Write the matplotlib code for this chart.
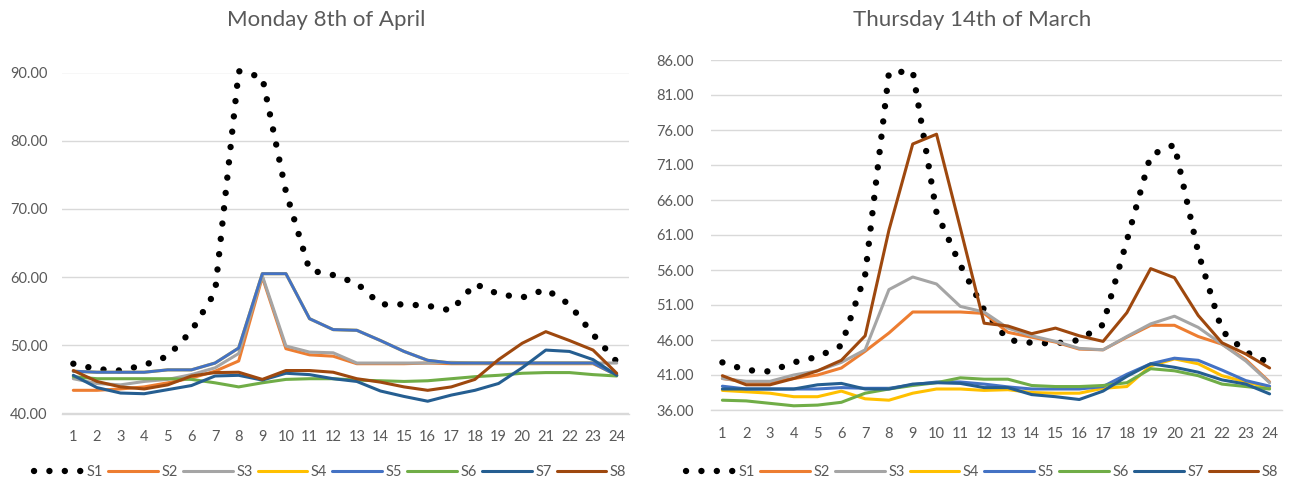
import matplotlib
matplotlib.use("Agg")
import matplotlib.pyplot as plt
from matplotlib.ticker import FixedLocator, FormatStrFormatter

plt.rcParams["font.family"] = ["Lato", "DejaVu Sans"]

hours = list(range(1, 25))
hour_labels = [str(h) for h in hours]
series_names = ["S1", "S2", "S3", "S4", "S5", "S6", "S7", "S8"]
series_colors = ["#000000", "#ED7D31", "#A5A5A5", "#FFC000",
                 "#4472C4", "#70AD47", "#255E91", "#9E480E"]

# Monday 8th of April
april_s1 = [47.3, 46.5, 46.3, 47.1, 48.4, 52.1, 57.8, 90.2, 89.3, 72.5, 61.0, 60.3,
            59.1, 56.0, 56.0, 55.8, 55.1, 59.0, 57.5, 57.0, 58.2, 56.0, 51.6, 47.6]
april_s2 = [43.4, 43.4, 43.6, 43.9, 44.5, 45.2, 46.2, 47.7, 60.0, 49.5, 48.6, 48.4,
            47.3, 47.3, 47.3, 47.4, 47.3, 47.3, 47.3, 47.3, 47.3, 47.3, 47.3, 45.7]
april_s3 = [45.1, 44.4, 44.2, 44.7, 45.0, 45.7, 46.7, 48.8, 60.2, 49.9, 49.0, 48.9,
            47.4, 47.4, 47.4, 47.4, 47.5, 47.4, 47.4, 47.4, 47.4, 47.4, 47.4, 47.4]
april_s4 = [46.2, 46.05, 46.05, 46.05, 46.4, 46.4, 47.4, 49.6, 60.5, 60.5, 53.9, 52.3,
            52.2, 50.7, 49.1, 47.8, 47.4, 47.4, 47.4, 47.4, 47.4, 47.4, 47.4, 45.6]
april_s5 = [46.2, 46.05, 46.05, 46.05, 46.4, 46.4, 47.4, 49.6, 60.5, 60.5, 53.9, 52.3,
            52.2, 50.7, 49.1, 47.8, 47.4, 47.4, 47.4, 47.4, 47.4, 47.4, 47.4, 45.6]
april_s6 = [45.4, 45.1, 45.1, 45.1, 45.1, 45.0, 44.5, 43.9, 44.5, 45.0, 45.1, 45.1,
            44.9, 44.8, 44.7, 44.8, 45.1, 45.4, 45.6, 45.9, 46.0, 46.0, 45.7, 45.5]
april_s7 = [45.6, 43.8, 43.0, 42.9, 43.5, 44.1, 45.5, 45.6, 44.9, 45.9, 45.7, 45.1,
            44.7, 43.3, 42.5, 41.8, 42.7, 43.4, 44.4, 46.7, 49.3, 49.1, 47.9, 45.6]
april_s8 = [46.3, 44.7, 43.9, 43.6, 44.2, 45.5, 46.0, 46.05, 45.0, 46.3, 46.3, 46.05,
            45.1, 44.6, 43.9, 43.4, 43.9, 45.0, 47.9, 50.3, 52.0, 50.7, 49.3, 45.9]

# Thursday 14th of March
march_s1 = [42.8, 41.7, 41.5, 42.8, 43.6, 45.2, 55.3, 84.2, 84.4, 64.2, 56.7, 50.3,
            46.0, 45.6, 45.5, 46.0, 48.2, 60.2, 72.4, 73.9, 58.5, 47.3, 44.3, 42.7]
march_s2 = [40.5, 40.0, 40.0, 40.5, 41.0, 42.0, 44.4, 47.0, 50.0, 50.0, 50.0, 49.8,
            47.1, 46.4, 45.7, 44.7, 44.6, 46.4, 48.1, 48.1, 46.5, 45.4, 43.2, 40.0]
march_s3 = [40.5, 40.1, 40.1, 41.0, 41.6, 42.8, 44.6, 53.2, 55.0, 54.0, 50.8, 50.0,
            47.7, 46.6, 45.8, 44.8, 44.6, 46.5, 48.3, 49.4, 47.8, 45.4, 43.0, 39.9]
march_s4 = [38.8, 38.6, 38.4, 37.9, 37.9, 38.7, 37.6, 37.4, 38.4, 39.0, 39.0, 38.8,
            38.9, 38.5, 38.4, 38.4, 39.1, 39.35, 42.3, 43.3, 42.6, 40.9, 40.0, 39.2]
march_s5 = [39.4, 39.0, 39.0, 39.0, 39.0, 39.2, 39.1, 39.1, 39.6, 40.0, 40.0, 39.7,
            39.3, 39.0, 39.0, 39.0, 39.35, 41.1, 42.6, 43.4, 43.1, 41.7, 40.2, 39.4]
march_s6 = [37.4, 37.3, 36.95, 36.6, 36.7, 37.1, 38.4, 39.0, 39.5, 39.9, 40.6, 40.4,
            40.4, 39.5, 39.35, 39.35, 39.5, 39.9, 41.9, 41.6, 40.9, 39.7, 39.35, 39.0]
march_s7 = [39.0, 39.0, 39.0, 39.0, 39.6, 39.8, 39.0, 39.0, 39.7, 39.9, 39.8, 39.2,
            39.2, 38.2, 37.9, 37.5, 38.7, 40.8, 42.6, 42.1, 41.4, 40.3, 39.7, 38.3]
march_s8 = [40.9, 39.6, 39.6, 40.5, 41.6, 43.1, 46.6, 61.7, 74.0, 75.4, 62.0, 48.4,
            48.0, 46.9, 47.7, 46.6, 45.8, 49.9, 56.2, 54.9, 49.5, 45.6, 44.0, 42.0]

april_series = [april_s1, april_s2, april_s3, april_s4,
                april_s5, april_s6, april_s7, april_s8]
march_series = [march_s1, march_s2, march_s3, march_s4,
                march_s5, march_s6, march_s7, march_s8]

april_ticks = [40, 50, 60, 70, 80, 90]
march_ticks = [36, 41, 46, 51, 56, 61, 66, 71, 76, 81, 86]

TEXT = "#595959"
GRID = "#D9D9D9"

W, H = 1289, 487
fig = plt.figure(figsize=(W / 100, H / 100), dpi=100)


def px_axes(left, top, right, bottom):
    return fig.add_axes([left / W, 1 - bottom / H, (right - left) / W, (bottom - top) / H])


def draw_panel(ax, data, ticks, title, title_x, legend_x, ypad):
    for name, color, values in zip(series_names, series_colors, data):
        if name == "S1":
            ax.plot(hours, values, color=color, lw=4.6, linestyle=(0, (0.01, 2.4)),
                    dash_capstyle="round", clip_on=False, label=name, zorder=2)
        else:
            ax.plot(hours, values, color=color, lw=2.2, solid_joinstyle="round",
                    solid_capstyle="round", clip_on=False, label=name, zorder=3)
    ax.set_xlim(0.5, 24.5)
    ax.set_ylim(ticks[0], ticks[-1])
    ax.yaxis.set_major_locator(FixedLocator(ticks))
    ax.yaxis.set_major_formatter(FormatStrFormatter("%.2f"))
    ax.set_xticks(hours)
    ax.set_xticklabels(hour_labels)
    ax.grid(axis="y", color=GRID, lw=1.0)
    ax.set_axisbelow(True)
    for side in ("left", "right", "top"):
        ax.spines[side].set_visible(False)
    ax.spines["bottom"].set_color(GRID)
    ax.spines["bottom"].set_linewidth(1.0)
    ax.tick_params(axis="both", length=0, colors=TEXT, labelsize=10.5)
    ax.tick_params(axis="x", pad=12)
    ax.tick_params(axis="y", pad=ypad)
    fig.text(title_x / W, 1 - 20 / H, title, ha="center", va="center",
             fontsize=16, color=TEXT)
    leg = ax.legend(loc="center", bbox_to_anchor=(legend_x / W, 1 - 472 / H),
                    bbox_transform=fig.transFigure, ncol=8, frameon=False,
                    fontsize=10.5, handlelength=3.4, handletextpad=0.25,
                    columnspacing=0.35, labelcolor=TEXT)
    return leg


ax_left = px_axes(61.5, 72.5, 628.5, 413.5)
draw_panel(ax_left, april_series, april_ticks, "Monday 8th of April", 326, 330, 10)

ax_right = px_axes(710.5, 60, 1281.5, 410)
draw_panel(ax_right, march_series, march_ticks, "Thursday 14th of March", 972, 982, 12)

fig.savefig("out.png", dpi=100, facecolor="white")
